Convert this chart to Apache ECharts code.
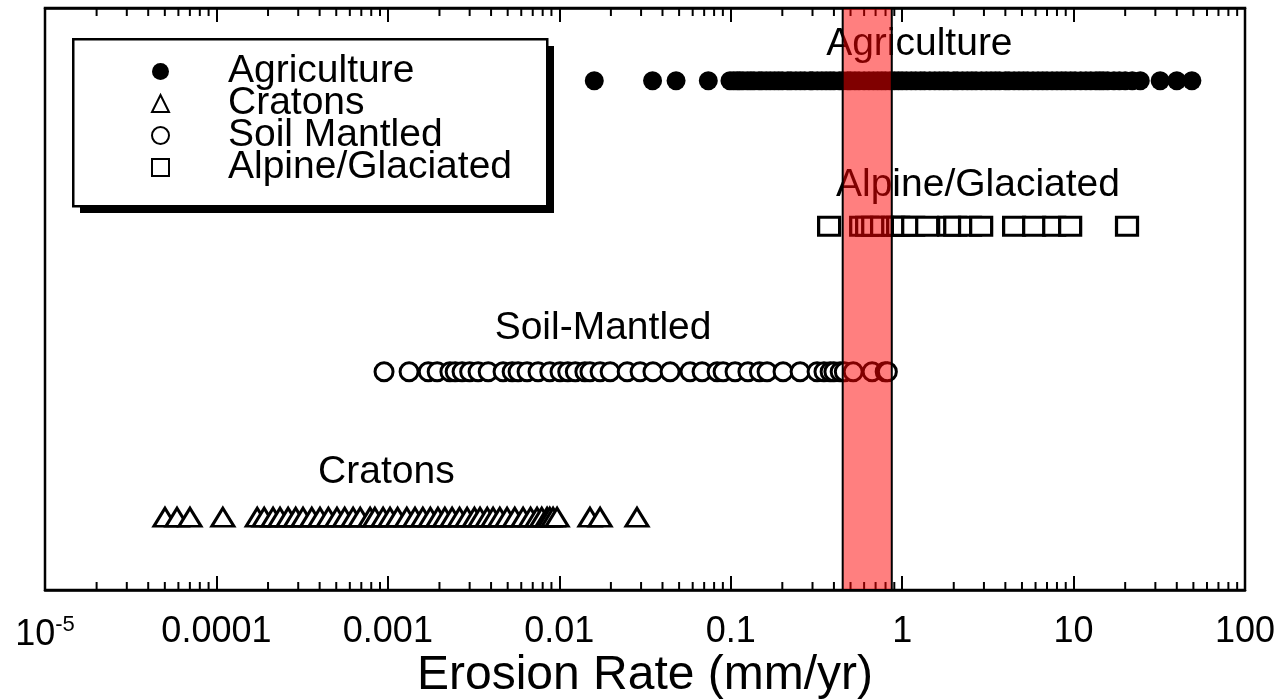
<!DOCTYPE html>
<html><head><meta charset="utf-8">
<script src="https://cdn.jsdelivr.net/npm/echarts@6/dist/echarts.min.js"></script>
<style>html,body{margin:0;padding:0;background:#fff}#c{width:1275px;height:699px}</style>
</head><body><div id="c"></div>
<script>
const seriesNames = ['Agriculture', 'Cratons', 'Soil Mantled', 'Alpine/Glaciated'];
const rowOf = { 'Agriculture': 4, 'Alpine/Glaciated': 3, 'Soil Mantled': 2, 'Cratons': 1 };

const agriculture = [0.016, 0.035, 0.048, 0.074, 0.099, 0.104, 0.109, 0.113, 0.118, 0.125, 0.131, 0.137, 0.146, 0.152, 0.161, 0.17, 0.18, 0.19, 0.2, 0.215, 0.225, 0.24, 0.255, 0.27, 0.29, 0.3, 0.32, 0.34, 0.36, 0.38, 0.4, 0.43, 0.45, 0.48, 0.5, 0.53, 0.56, 0.6, 0.64, 0.68, 0.72, 0.76, 0.8, 0.85, 0.9, 0.95, 1.0, 1.06, 1.13, 1.2, 1.28, 1.35, 1.45, 1.55, 1.65, 1.75, 1.85, 2.0, 2.1, 2.25, 2.4, 2.55, 2.7, 2.9, 3.1, 3.3, 3.5, 3.7, 4.0, 4.2, 4.5, 4.8, 5.1, 5.4, 5.8, 6.2, 6.6, 7.0, 7.5, 8.0, 8.5, 9.0, 9.6, 10.2, 11.0, 11.8, 12.6, 13.5, 14.2, 14.9, 15.8, 17.2, 18.5, 20.0, 22.0, 24.5, 32, 40, 49];
const alpine = [0.375, 0.577, 0.625, 0.678, 0.764, 0.887, 0.948, 1.01, 1.16, 1.40, 1.88, 2.04, 2.49, 2.89, 4.50, 5.89, 7.71, 9.55, 20.5];
const soilMantled = [0.00095, 0.00133, 0.00172, 0.00194, 0.0023, 0.00247, 0.00271, 0.0030, 0.00336, 0.00385, 0.0047, 0.00531, 0.00575, 0.00649, 0.00752, 0.0088, 0.0101, 0.0112, 0.0124, 0.0141, 0.0151, 0.0173, 0.0198, 0.0249, 0.0296, 0.0352, 0.0443, 0.0579, 0.0681, 0.0833, 0.0903, 0.106, 0.126, 0.147, 0.163, 0.202, 0.254, 0.319, 0.35, 0.38, 0.40, 0.435, 0.46, 0.518, 0.668, 0.796, 0.82];
const cratons = [5.01e-5, 5.89e-5, 7.01e-5, 1.09e-4, 1.73e-4, 1.9e-4, 2.14e-4, 2.35e-4, 2.62e-4, 2.9e-4, 3.2e-4, 3.6e-4, 4.02e-4, 4.5e-4, 5.05e-4, 5.6e-4, 6.27e-4, 6.9e-4, 7.88e-4, 8.4e-4, 9.38e-4, 1.03e-3, 1.14e-3, 1.29e-3, 1.44e-3, 1.6e-3, 1.77e-3, 1.96e-3, 2.15e-3, 2.37e-3, 2.62e-3, 2.9e-3, 3.2e-3, 3.45e-3, 3.8e-3, 4.11e-3, 4.5e-3, 4.96e-3, 5.5e-3, 6.15e-3, 6.8e-3, 7.42e-3, 7.9e-3, 8.49e-3, 8.8e-3, 9.2e-3, 9.71e-3, 0.0151, 0.0173, 0.0284];

const rowLabels = ['Agriculture', 'Alpine/Glaciated', 'Soil-Mantled', 'Cratons'];
const rowLabelRate = [1.26, 2.77, 0.018, 0.00098];
const rowLabelLevel = [4.25, 3.28, 2.3, 1.31];

const tickLabels = ['10^-5', '0.0001', '0.001', '0.01', '0.1', '1', '10', '100'];
const bandRange = [0.45, 0.87];
const xTitle = 'Erosion Rate (mm/yr)';

const FONT = 'Liberation Sans, Arial, Helvetica, sans-serif';
const minorTicks = [];
for (let d = -5; d < 2; d++) for (let m = 2; m <= 9; m++) minorTicks.push([m * Math.pow(10, d), 0.5]);

function pts(arr, name) { return arr.map(v => [v, rowOf[name]]); }

const hollow = { color: '#fff', borderColor: '#000', borderWidth: 3, opacity: 1 };
const chart = echarts.init(document.getElementById('c'), null, { renderer: 'canvas' });
chart.setOption({
  animation: false,
  backgroundColor: '#fff',
  textStyle: { fontFamily: FONT },
  grid: { left: 45, right: 30, top: 8, bottom: 109, outerBoundsMode: 'none', containLabel: false, show: true, borderColor: '#000', borderWidth: 2.5, backgroundColor: 'transparent' },
  graphic: [
    { type: 'rect', left: 80, top: 46, shape: { width: 474, height: 167 }, style: { fill: '#000' }, z: 0 },
    { type: 'rect', left: 72, top: 38, shape: { width: 474, height: 167 }, style: { fill: '#fff', stroke: '#000', lineWidth: 2.5 }, z: 1 }
  ],
  legend: {
    orient: 'vertical', left: 72, top: 38, selectedMode: false, z: 5,
    data: seriesNames,
    padding: [14, 30, 20, 79], itemGap: -7, itemWidth: 17, itemHeight: 17,
    backgroundColor: 'transparent', borderWidth: 0,
    textStyle: { color: '#000', fontSize: 39, fontFamily: FONT, padding: [0, 0, 0, 54] }
  },
  xAxis: [{
    type: 'log', logBase: 10, min: 1e-5, max: 100, position: 'bottom',
    name: xTitle, nameLocation: 'middle', nameGap: 62, nameMoveOverlap: false,
    nameTextStyle: { color: '#000', fontSize: 48, fontFamily: FONT, verticalAlign: 'top' },
    axisLine: { lineStyle: { color: '#000', width: 2.5 } },
    axisTick: { inside: true, length: 14, lineStyle: { color: '#000', width: 2 } },
    splitLine: { show: false }, minorTick: { show: false },
    axisLabel: {
      color: '#000', fontSize: 36, fontFamily: FONT, margin: 24,
      formatter: v => {
        const t = tickLabels[Math.round(Math.log10(v)) + 5];
        if (t && t.indexOf('^') > 0) { const p = t.split('^'); return '{b|' + p[0] + '}{s|' + p[1] + '}'; }
        return t;
      },
      rich: { b: { fontSize: 36, lineHeight: 42, fontFamily: FONT, color: '#000' }, s: { fontSize: 22, lineHeight: 42, verticalAlign: 'top', fontFamily: FONT, color: '#000' } }
    }
  }, {
    type: 'log', logBase: 10, min: 1e-5, max: 100, position: 'top',
    axisLine: { lineStyle: { color: '#000', width: 2.5 } },
    axisTick: { inside: true, length: 14, lineStyle: { color: '#000', width: 2 } },
    axisLabel: { show: false }, splitLine: { show: false }
  }],
  yAxis: { type: 'value', min: 0.5, max: 4.5, show: false },
  series: [
    { name: 'Agriculture', type: 'scatter', symbol: 'circle', symbolSize: 19, itemStyle: { color: '#000', opacity: 1 }, data: pts(agriculture, 'Agriculture'), z: 2 },
    { name: 'Cratons', type: 'scatter', symbol: 'triangle', symbolSize: [22, 18], itemStyle: hollow, data: pts(cratons, 'Cratons'), z: 2 },
    { name: 'Soil Mantled', type: 'scatter', symbol: 'circle', symbolSize: 18, itemStyle: hollow, data: pts(soilMantled, 'Soil Mantled'), z: 2 },
    { name: 'Alpine/Glaciated', type: 'scatter', symbol: 'rect', symbolSize: [21, 18], itemStyle: hollow, data: pts(alpine, 'Alpine/Glaciated'), z: 2 },
    { name: 'rowLabels', type: 'scatter', symbolSize: 0, silent: true, z: 3, itemStyle: { opacity: 1 },
      data: rowLabels.map((t, i) => [rowLabelRate[i], rowLabelLevel[i], t]),
      label: { show: true, position: 'inside', formatter: p => p.value[2], color: '#000', fontSize: 39, fontFamily: FONT } },
    { name: 'minorTicks', type: 'custom', silent: true, z: 4, data: minorTicks,
      renderItem: (params, api) => {
        const v = api.value(0);
        const pb = api.coord([v, 0.5]);
        const pt = api.coord([v, 4.5]);
        const st = { stroke: '#000', lineWidth: 2 };
        return { type: 'group', children: [
          { type: 'line', shape: { x1: pb[0], y1: pb[1], x2: pb[0], y2: pb[1] - 8 }, style: st },
          { type: 'line', shape: { x1: pt[0], y1: pt[1], x2: pt[0], y2: pt[1] + 8 }, style: st }
        ] };
      } },
    { name: 'band', type: 'custom', silent: true, z: 10, data: [[bandRange[0], bandRange[1]]],
      encode: { x: [0, 1] },
      renderItem: (params, api) => {
        const p1 = api.coord([api.value(0), 4.5]);
        const p2 = api.coord([api.value(1), 0.5]);
        return { type: 'rect', shape: { x: p1[0], y: p1[1], width: p2[0] - p1[0], height: p2[1] - p1[1] },
          style: { fill: 'rgba(255,0,0,0.5)', stroke: '#000', lineWidth: 2 } };
      } }
  ]
});
</script></body></html>
